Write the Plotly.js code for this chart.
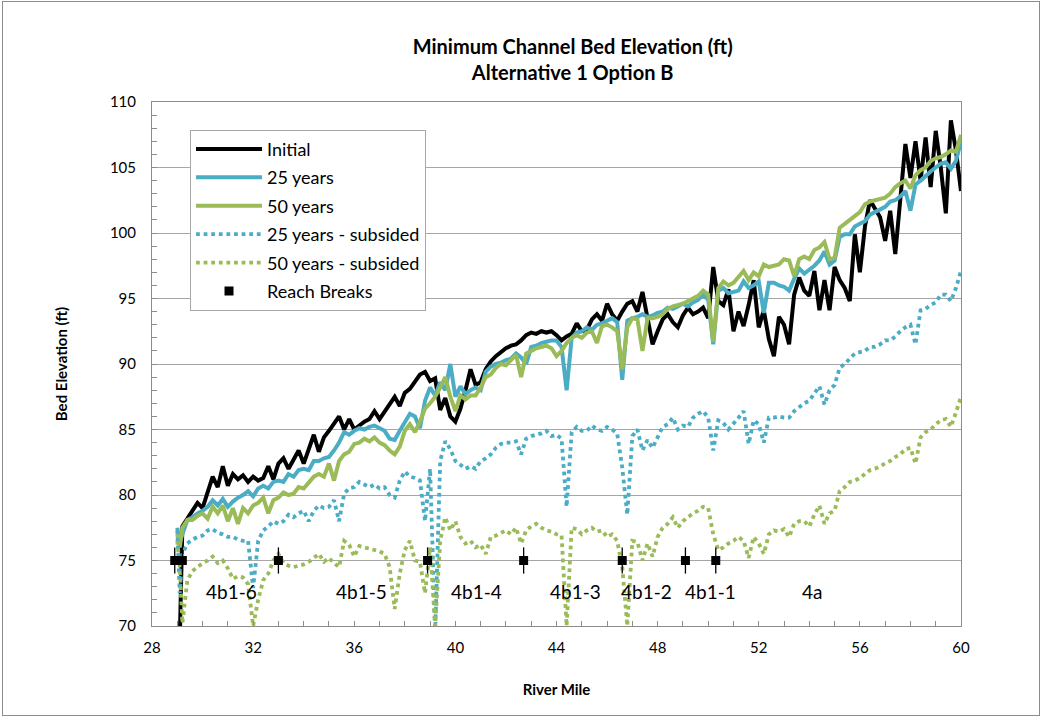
<!DOCTYPE html>
<html>
<head>
<meta charset="utf-8">
<script src="https://cdn.plot.ly/plotly-3.0.1.min.js"></script>
<style>
  html, body { margin: 0; padding: 0; background: #fff; }
  #wrap { position: relative; width: 1047px; height: 719px; }
  #chart { position: absolute; left: 0; top: 0; width: 1047px; height: 719px; }
  #frame { position: absolute; left: 2px; top: 1px; width: 1036px; height: 713px; border: 1px solid #8c8c8c; pointer-events: none; }
</style>
</head>
<body>
<div id="wrap"><div id="chart"></div><div id="frame"></div></div>
<script>
// River mile stations (shared by all profiles)
const riverMile = [
  29.0, 29.1, 29.2, 29.4, 29.6, 29.8,
  30.0, 30.2, 30.4, 30.6, 30.8, 31.0, 31.2, 31.4, 31.6, 31.8,
  32.0, 32.2, 32.4, 32.6, 32.8, 33.0, 33.2, 33.4, 33.6, 33.8,
  34.0, 34.2, 34.4, 34.6, 34.8, 35.0, 35.2, 35.4, 35.6, 35.8,
  36.0, 36.2, 36.4, 36.6, 36.8, 37.0, 37.2, 37.4, 37.6, 37.8,
  38.0, 38.2, 38.4, 38.6, 38.8, 39.0, 39.2, 39.4, 39.6, 39.8,
  40.0, 40.2, 40.4, 40.6, 40.8, 41.0, 41.2, 41.4, 41.6, 41.8,
  42.0, 42.2, 42.4, 42.6, 42.8, 43.0, 43.2, 43.4, 43.6, 43.8,
  44.0, 44.2, 44.4, 44.6, 44.8, 45.0, 45.2, 45.4, 45.6, 45.8,
  46.0, 46.2, 46.4, 46.6, 46.8, 47.0, 47.2, 47.4, 47.6, 47.8,
  48.0, 48.2, 48.4, 48.6, 48.8, 49.0, 49.2, 49.4, 49.6, 49.8,
  50.0, 50.2, 50.4, 50.6, 50.8, 51.0, 51.2, 51.4, 51.6, 51.8,
  52.0, 52.2, 52.4, 52.6, 52.8, 53.0, 53.2, 53.4, 53.6, 53.8,
  54.0, 54.2, 54.4, 54.6, 54.8, 55.0, 55.2, 55.4, 55.6, 55.8,
  56.0, 56.2, 56.4, 56.6, 56.8, 57.0, 57.2, 57.4, 57.6, 57.8,
  58.0, 58.2, 58.4, 58.6, 58.8, 59.0, 59.2, 59.4, 59.6, 59.8,
  60.0
];

const initialElev = [
  69.0, 69.0, 77.6, 78.2, 78.8, 79.4,
  79.0, 80.2, 81.4, 80.6, 82.2, 80.7, 81.6, 81.2, 81.5, 81.0,
  81.4, 81.1, 81.3, 82.2, 81.2, 82.4, 82.8, 82.0, 82.7, 83.4,
  82.4, 83.5, 84.6, 83.3, 84.4, 84.9, 85.4, 86.0, 85.0, 85.8,
  85.0, 85.3, 85.6, 85.8, 86.4, 85.8, 86.4, 87.0, 87.5, 86.8,
  87.8, 88.1, 88.6, 89.2, 89.4, 88.7, 88.9, 86.5, 87.4, 86.0,
  85.6, 86.6, 88.0, 89.6, 88.4, 88.6, 89.6, 90.2, 90.6, 90.9,
  91.2, 91.4, 91.5, 91.8, 92.2, 92.4, 92.3, 92.5, 92.4, 92.5,
  92.2, 91.8, 92.1, 92.3, 93.1, 92.5, 92.6, 93.4, 93.8, 93.3,
  94.6, 93.8, 93.3, 94.0, 94.6, 94.8, 94.0, 95.5, 93.5, 91.5,
  92.5, 93.4, 93.8, 93.2, 92.8, 93.7, 94.3, 93.8, 94.0, 94.3,
  93.5, 97.4, 94.8, 94.5, 95.7, 92.5, 94.0, 92.9, 94.5, 96.4,
  92.8, 94.1, 91.9, 90.6, 93.6, 93.0, 91.5, 95.3, 96.6, 95.6,
  95.2, 97.1, 94.1, 96.4, 94.1, 97.4, 96.4, 95.8, 94.8, 99.9,
  97.0, 100.5, 102.5, 101.8, 101.2, 99.4, 101.7, 98.4, 102.5, 106.8,
  104.2, 107.0, 104.0, 107.3, 103.5, 107.8, 105.0, 101.5, 108.6, 106.3,
  103.2
];

const years25 = [
  77.5, 76.4, 77.0, 78.1, 78.3, 78.6,
  78.8, 79.1, 79.6, 79.2, 79.7, 79.1, 79.5, 79.8, 80.0, 80.3,
  79.9, 80.5, 80.7, 80.5, 81.0, 81.1, 81.0, 81.6, 81.4, 81.9,
  82.0, 81.9, 82.6, 82.6, 82.8, 82.9, 83.4, 84.0, 84.8, 84.6,
  84.9, 85.1, 85.0, 85.2, 85.3, 85.1, 84.9, 84.3, 84.2, 84.9,
  85.5, 86.2, 86.0, 85.1, 87.2, 88.2, 87.6, 88.6, 88.0, 90.0,
  87.5, 88.3, 87.7, 88.0, 88.2, 88.0, 89.4, 89.8, 90.0, 90.1,
  90.3, 90.4, 90.8, 90.5, 90.0, 91.3, 91.4, 91.6, 91.7, 91.8,
  91.8, 91.3, 88.0, 92.0, 92.4, 92.5, 92.8, 92.6, 93.0, 93.1,
  93.3, 93.5, 93.2, 88.8, 93.3, 93.5, 93.6, 93.8, 93.6, 93.7,
  93.9, 94.0, 94.3, 94.2, 94.4, 94.6, 94.4, 94.7, 94.9, 95.3,
  94.9, 91.5, 95.6, 95.8, 95.4, 95.5, 95.6, 96.3, 95.8, 96.0,
  96.3, 93.9, 96.2, 96.2, 96.0, 95.9, 95.6, 96.5, 97.3, 96.9,
  97.2, 97.5, 97.9, 98.6, 97.6, 97.9, 99.7, 99.9, 99.9, 100.5,
  100.7, 100.9, 101.4, 101.6, 101.8, 102.0, 102.4, 102.5, 102.8, 103.2,
  101.7, 103.7, 104.0, 104.4, 104.7, 105.0, 105.3, 105.4, 104.9, 105.5,
  107.0
];

const years50 = [
  77.0, 76.0, 77.5, 78.1, 78.1, 78.4,
  78.6, 78.2, 79.1, 78.6, 79.2, 78.0, 79.0, 77.8, 79.0, 78.6,
  79.2, 79.4, 79.8, 78.6, 79.6, 79.8, 80.2, 80.0, 80.1, 80.6,
  80.5, 81.0, 81.4, 81.6, 81.4, 82.4, 81.1, 82.6, 83.1, 83.3,
  83.9, 84.0, 84.3, 84.1, 84.4, 84.0, 83.8, 83.4, 83.1, 83.7,
  84.9, 85.4, 84.8, 85.6, 86.6, 87.0, 87.5, 88.2, 89.0, 87.5,
  86.4, 87.6, 87.3, 87.6, 87.6, 88.2, 89.0, 89.2, 89.7, 90.0,
  89.9, 90.3, 90.7, 89.0, 90.8, 91.0, 91.2, 91.3, 91.4, 91.2,
  90.6, 91.0, 91.6, 92.0, 92.2, 92.0, 92.4, 92.5, 91.6, 92.9,
  93.0, 92.8, 92.5, 89.6, 92.8, 93.5, 93.4, 91.0, 93.5, 93.5,
  93.6, 93.8, 94.2, 94.4, 94.5, 94.6, 94.8, 95.0, 95.2, 95.6,
  95.3, 91.7, 95.8, 96.3, 96.0, 96.2, 96.6, 97.1, 96.4, 97.0,
  96.7, 97.6, 97.4, 97.5, 97.6, 98.0, 97.9, 96.7, 98.0, 98.2,
  98.0, 98.7, 98.9, 99.3, 98.0, 98.1, 100.4, 100.7, 101.0, 101.3,
  101.6, 102.2, 102.4, 102.5, 102.6, 102.7, 103.0, 103.5, 103.8, 104.0,
  103.4, 104.4, 104.8, 105.0, 105.5, 105.7, 105.8, 106.0, 106.3, 106.2,
  107.5
];

const years25Subsided = [
  77.3, 72.5, 75.5, 76.3, 76.6, 76.8,
  76.9, 77.3, 77.4, 77.1, 77.0, 76.8, 76.8, 76.6, 76.5, 76.5,
  72.9, 76.5, 77.3, 77.6, 78.0, 77.8, 78.0, 78.5, 78.3, 78.6,
  78.8, 78.0, 78.8, 79.2, 79.0, 79.1, 79.6, 78.0, 80.1, 80.5,
  80.6, 81.0, 80.8, 80.6, 80.8, 80.5, 80.6, 80.0, 79.8, 81.1,
  81.8, 81.4, 81.3, 81.1, 78.0, 82.0, 69.5, 82.6, 84.1, 83.5,
  82.6, 82.3, 82.0, 82.2, 82.0, 82.6, 82.8, 83.1, 83.6, 83.9,
  84.0, 84.0, 84.1, 83.1, 84.3, 84.5, 84.6, 84.7, 84.9, 84.5,
  84.6, 84.3, 79.1, 84.8, 85.2, 84.9, 84.9, 85.3, 85.0, 84.9,
  85.2, 85.0, 84.7, 82.1, 78.5, 84.5, 85.0, 83.4, 84.2, 83.6,
  84.4, 85.2, 85.4, 85.9, 85.0, 85.3, 85.2, 85.9, 86.2, 86.4,
  85.9, 83.4, 85.7, 85.5, 85.0, 85.4, 85.9, 86.4, 83.9, 85.7,
  85.4, 84.0, 85.9, 85.9, 86.0, 85.9, 85.9, 86.4, 86.7, 87.0,
  87.2, 87.7, 88.3, 86.9, 88.0, 88.4, 89.7, 90.0, 90.4, 90.8,
  90.9, 91.0, 91.3, 91.3, 91.5, 91.8, 91.8, 92.1, 92.5, 92.8,
  93.0, 91.5, 94.1, 94.2, 94.5, 94.7, 95.3, 95.3, 94.8, 95.8,
  97.1
];

const years50Subsided = [
  76.5, 74.5, 70.2, 73.5, 74.2, 74.5,
  74.8, 75.0, 75.3, 74.8, 75.0, 74.4, 73.6, 73.8, 73.7, 73.2,
  70.0, 72.0, 73.5, 74.0, 75.0, 75.5, 74.8, 74.6, 74.5, 74.6,
  74.7, 74.9, 75.2, 75.5, 74.9, 75.2, 74.8, 74.5, 76.5, 76.2,
  75.3, 76.1, 76.0, 75.9, 75.8, 75.7, 75.5, 74.5, 71.3, 74.0,
  75.8, 76.5, 75.0, 74.9, 72.5, 76.0, 70.0, 76.5, 78.3, 77.3,
  78.0, 76.8, 76.3, 76.5, 76.0, 76.2, 75.5, 76.8, 76.9, 77.1,
  77.3, 77.0, 77.5, 76.3, 77.3, 77.6, 77.8, 77.5, 77.3, 77.2,
  77.0, 76.9, 70.0, 77.5, 77.4, 77.0, 77.3, 77.5, 77.2, 77.3,
  76.8, 77.0, 76.5, 74.5, 70.0, 76.5, 76.4, 75.0, 76.3, 75.3,
  76.8, 77.5, 77.8, 78.3, 77.5, 78.0, 78.3, 78.6, 78.8, 79.1,
  79.0, 77.0, 75.8, 76.0, 76.3, 76.5, 76.8, 76.5, 75.2, 76.8,
  76.3, 75.5, 77.0, 77.3, 77.2, 77.4, 76.8, 77.8, 78.0, 78.0,
  77.6, 78.5, 79.2, 77.8, 78.6, 78.8, 80.3, 80.6, 81.0, 81.1,
  81.3, 81.6, 81.9, 82.0, 82.2, 82.4, 82.6, 82.9, 83.1, 83.5,
  83.6, 82.4, 84.4, 84.8, 85.0, 85.4, 85.7, 85.8, 85.2, 86.3,
  87.5
];

// Reach breaks
const reachBreakMile = [28.9, 29.2, 33.0, 38.9, 42.7, 46.6, 49.1, 50.3];
const reachBreakElev = [75, 75, 75, 75, 75, 75, 75, 75];

// Reach labels
const reachNames = ['4b1-6', '4b1-5', '4b1-4', '4b1-3', '4b1-2', '4b1-1', '4a'];
const reachLabelMile = [31.15, 36.3, 40.85, 44.75, 47.55, 50.1, 54.1];
const reachLabelElev = 72.6;

const FONT = 'Lato, "Open Sans", "DejaVu Sans", sans-serif';
const BLUE = '#4bacc6';
const GREEN = '#9bbb59';

const traces = [
  { x: riverMile, y: initialElev, name: 'Initial', mode: 'lines', legendgroup: 'a',
    line: { color: '#000000', width: 4 } },
  { x: riverMile, y: years25, name: '25 years', mode: 'lines', legendgroup: 'b',
    line: { color: BLUE, width: 4 } },
  { x: riverMile, y: years50, name: '50 years', mode: 'lines', legendgroup: 'c',
    line: { color: GREEN, width: 4 } },
  { x: riverMile, y: years25Subsided, name: '25 years - subsided', mode: 'lines', legendgroup: 'd',
    line: { color: BLUE, width: 3.8, dash: '3.8px,3.8px' } },
  { x: riverMile, y: years50Subsided, name: '50 years - subsided', mode: 'lines', legendgroup: 'e',
    line: { color: GREEN, width: 3.8, dash: '3.8px,3.8px' } },
  { x: reachBreakMile, y: reachBreakElev, name: 'Reach Breaks', mode: 'markers', legendgroup: 'f',
    marker: { color: '#000000', symbol: 'square', size: 9 },
    error_y: { type: 'constant', value: 1.0, color: '#000000', thickness: 1.3, width: 0 } }
];

const annotations = reachNames.map((t, i) => ({
  x: reachLabelMile[i], y: reachLabelElev, xref: 'x', yref: 'y',
  text: t, showarrow: false, font: { family: FONT, size: 19, color: '#000' }
}));

const layout = {
  width: 1047, height: 719,
  paper_bgcolor: '#ffffff', plot_bgcolor: '#ffffff',
  margin: { l: 152, r: 86, t: 102, b: 93 },
  font: { family: FONT, color: '#000' },
  title: {
    text: '<b>Minimum Channel Bed Elevation (ft)</b><br><b>Alternative 1 Option B</b>',
    font: { family: FONT, size: 20, color: '#000' },
    x: 0.52, xref: 'paper', xanchor: 'center',
    y: 0.925, yref: 'container', yanchor: 'middle'
  },
  xaxis: {
    range: [28, 60], dtick: 4, tick0: 28,
    showgrid: false, zeroline: false,
    showline: true, linecolor: '#8c8c8c', linewidth: 1, mirror: true,
    ticks: 'inside', ticklen: 5, tickcolor: '#8c8c8c',
    minor: { dtick: 1, ticks: 'inside', ticklen: 5, tickcolor: '#8c8c8c' },
    tickfont: { family: FONT, size: 15, color: '#000' },
    ticklabelstandoff: 8,
    title: { text: '<b>River Mile</b>', font: { family: FONT, size: 15, color: '#000' }, standoff: 29 }
  },
  yaxis: {
    range: [70, 110], dtick: 5, tick0: 70,
    showgrid: true, gridcolor: '#a6a6a6', gridwidth: 1, zeroline: false,
    showline: true, linecolor: '#8c8c8c', linewidth: 1, mirror: true,
    ticks: 'inside', ticklen: 5, tickcolor: '#8c8c8c',
    minor: { dtick: 1, ticks: 'inside', ticklen: 5, tickcolor: '#8c8c8c', showgrid: false },
    tickfont: { family: FONT, size: 15, color: '#000' },
    ticklabelstandoff: 12,
    title: { text: '<b>Bed Elevation (ft)</b>', font: { family: FONT, size: 15, color: '#000' }, standoff: 38 }
  },
  showlegend: true,
  legend: {
    x: 0.047, y: 0.947, xanchor: 'left', yanchor: 'top',
    bgcolor: '#ffffff', bordercolor: '#a6a6a6', borderwidth: 1,
    font: { family: FONT, size: 18, color: '#000' },
    traceorder: 'grouped', tracegroupgap: 2, itemwidth: 66
  },
  annotations: annotations
};

Plotly.newPlot('chart', traces, layout, { displayModeBar: false, staticPlot: true });
</script>
</body>
</html>
